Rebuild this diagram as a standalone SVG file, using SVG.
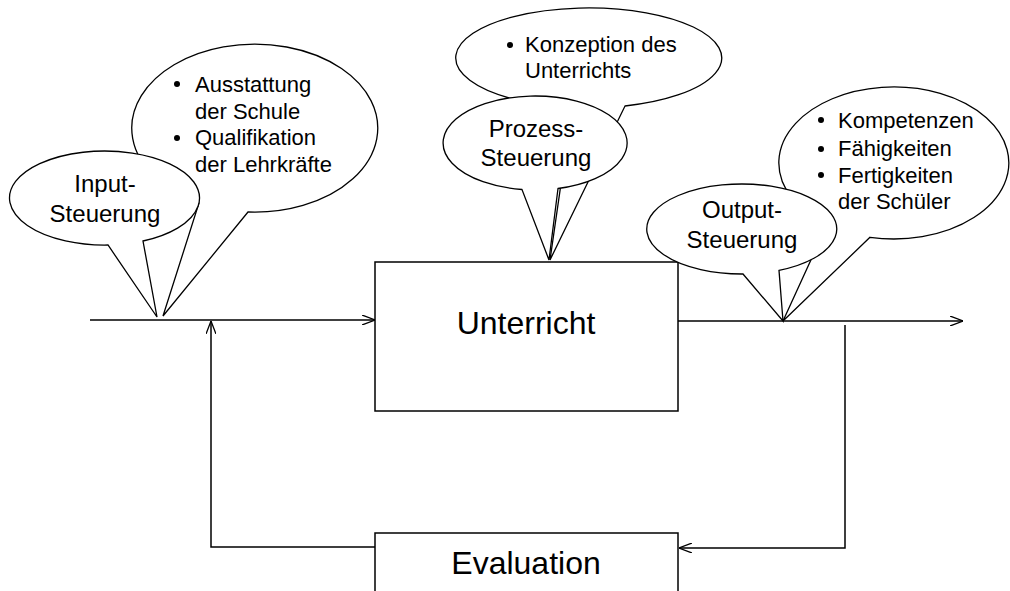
<svg xmlns="http://www.w3.org/2000/svg" width="1010" height="591" viewBox="0 0 1010 591">
<style>
.box{fill:#fff;stroke:#000;stroke-width:1.5}
.call{fill:#fff;stroke:#000;stroke-width:1.3;stroke-linejoin:miter}
.ln{fill:none;stroke:#000;stroke-width:1.5}
.t{font-family:"Liberation Sans",Arial,sans-serif;fill:#000}
.big{font-size:32px;text-anchor:middle}
.mid{font-size:24px;text-anchor:middle}
.sm{font-size:22px}
</style>
<defs>
<marker id="arr" viewBox="0 0 13 10" refX="13" refY="5" markerWidth="13" markerHeight="10" markerUnits="userSpaceOnUse" orient="auto">
<path d="M0,0 L13,5 L0,10" fill="none" stroke="#000" stroke-width="1.3"/>
</marker>
</defs>
<rect width="1010" height="591" fill="#fff"/>
<g id="unterricht">
<rect class="box" x="375" y="262" width="303" height="149"/>
<text class="t big" x="526" y="334">Unterricht</text>
</g>
<g id="evaluation">
<rect class="box" x="375" y="533" width="303" height="70"/>
<text class="t big" x="526" y="574">Evaluation</text>
</g>
<g id="connectors">
<path class="ln" d="M90,320 H375" marker-end="url(#arr)"/>
<path class="ln" d="M375,547 H211 V321" marker-end="url(#arr)"/>
<path class="ln" d="M678,321 H963" marker-end="url(#arr)"/>
<path class="ln" d="M845,325 V548 H679" marker-end="url(#arr)"/>
</g>
<g id="ausstattung">
<path class="call" d="M248,212 A123 84 0 1 0 199,203 L163,316 Z"/>
<circle cx="177" cy="84" r="3"/><circle cx="177" cy="138" r="3"/>
<text class="t sm" x="195" y="92">Ausstattung</text>
<text class="t sm" x="195" y="119">der Schule</text>
<text class="t sm" x="195" y="145">Qualifikation</text>
<text class="t sm" x="195" y="172">der Lehrkräfte</text>
</g>
<g id="input">
<path class="call" d="M143,241 A95 47 0 1 0 108,245 L157,317 Z"/>
<text class="t mid" x="105" y="192">Input-</text>
<text class="t mid" x="105" y="222">Steuerung</text>
</g>
<g id="konzeption">
<path class="call" d="M625,106 A133 50 0 1 0 572,107.5 L550,260 Z"/>
<circle cx="510" cy="45" r="3"/>
<text class="t sm" x="525" y="52">Konzeption des</text>
<text class="t sm" x="525" y="78">Unterrichts</text>
</g>
<g id="prozess">
<path class="call" d="M558,188.5 A92 47 0 1 0 522,189.5 L549,260 Z"/>
<text class="t mid" x="536" y="137">Prozess-</text>
<text class="t mid" x="536" y="166">Steuerung</text>
</g>
<g id="kompetenzen">
<path class="call" d="M870,237.3 A115 76 0 1 0 827,224.8 L783,321 Z"/>
<circle cx="821" cy="120" r="3"/><circle cx="821" cy="149" r="3"/><circle cx="821" cy="175" r="3"/>
<text class="t sm" x="838" y="128">Kompetenzen</text>
<text class="t sm" x="838" y="156">Fähigkeiten</text>
<text class="t sm" x="838" y="183">Fertigkeiten</text>
<text class="t sm" x="838" y="209">der Schüler</text>
</g>
<g id="output">
<path class="call" d="M779,270.4 A95 45 0 1 0 743,274 L783,321 Z"/>
<text class="t mid" x="742" y="218">Output-</text>
<text class="t mid" x="742" y="248">Steuerung</text>
</g>
</svg>
